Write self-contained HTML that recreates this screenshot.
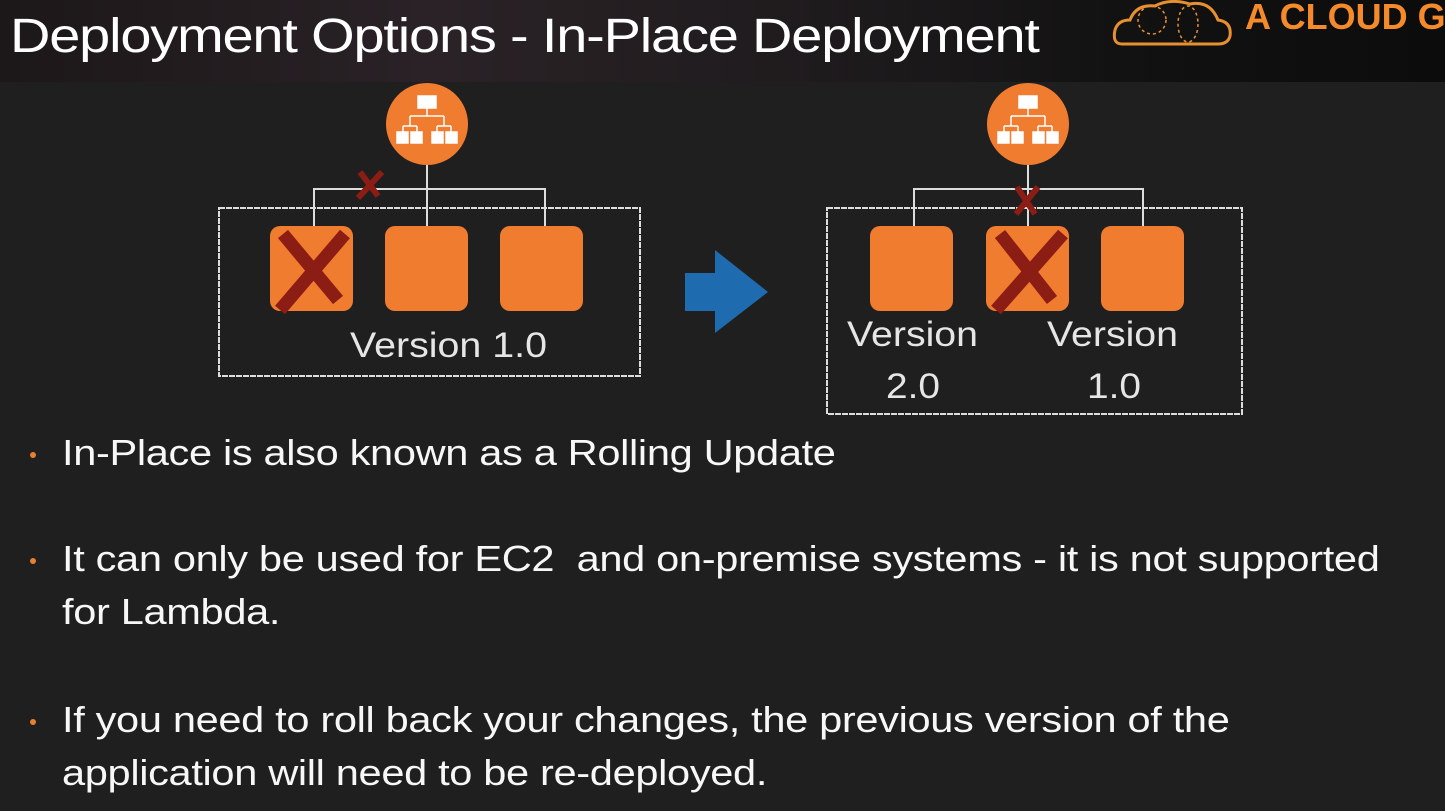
<!DOCTYPE html>
<html><head><meta charset="utf-8"><style>
html,body{margin:0;padding:0;width:1445px;height:811px;overflow:hidden;background:#1f1f1f;font-family:"Liberation Sans",sans-serif;}
.hdr{position:absolute;left:0;top:0;width:1445px;height:82px;background:linear-gradient(90deg,#1c1719 0%,#2a2226 30%,#1d1a1c 60%,#111 80%,#0c0c0c 100%);}
.t{position:absolute;color:#fff;white-space:nowrap;}
.b{position:absolute;color:#f7f7f7;font-size:36px;white-space:nowrap;left:62px;letter-spacing:-0.3px;transform:scaleX(1.155);transform-origin:0 0}
.dot{position:absolute;left:30px;width:6px;height:6px;border-radius:50%;background:#e8802f;}
</style></head><body>
<div class="hdr"></div>
<div class="t" style="left:10px;top:9px;font-size:48px;letter-spacing:-1px;transform:scaleX(1.165);transform-origin:0 0">Deployment Options - In-Place Deployment</div>
<svg style="position:absolute;left:1110px;top:0" width="140" height="50"><path d="M12 44 Q2 44 5 30 Q8 20 20 20 Q26 4 45 6 Q60 -2 80 4 Q100 0 108 20 Q122 22 120 36 Q118 44 108 44 Z" fill="none" stroke="#e8902f" stroke-width="3"/><circle cx="42" cy="20" r="14" fill="none" stroke="#e8902f" stroke-width="1.5" stroke-dasharray="3 3"/><ellipse cx="78" cy="24" rx="10" ry="18" fill="none" stroke="#e8902f" stroke-width="1.5" stroke-dasharray="3 3"/></svg>
<div class="t" style="left:1245px;top:-4px;font-size:36px;font-weight:bold;color:#f58a2a;">A CLOUD G</div>

<svg style="position:absolute;left:0;top:0" width="1445" height="811">
<defs>
<g id="elb"><circle r="41" fill="#f07c2f"/><g fill="#fff" stroke="#fff" stroke-width="1.5">
<rect x="-9" y="-28" width="18" height="12"/><line x1="0" y1="-16" x2="0" y2="-8" fill="none"/><line x1="-17" y1="-8" x2="17" y2="-8"/><line x1="-17" y1="-8" x2="-17" y2="2"/><line x1="17" y1="-8" x2="17" y2="2"/><line x1="-24" y1="2" x2="-10" y2="2"/><line x1="10" y1="2" x2="24" y2="2"/><line x1="-24" y1="2" x2="-24" y2="8"/><line x1="-10" y1="2" x2="-10" y2="8"/><line x1="10" y1="2" x2="10" y2="8"/><line x1="24" y1="2" x2="24" y2="8"/>
<rect x="-30" y="8" width="11" height="11"/><rect x="-16" y="8" width="11" height="11"/><rect x="5" y="8" width="11" height="11"/><rect x="19" y="8" width="11" height="11"/></g></g>
</defs>
<g fill="none" stroke="#ddd" stroke-width="2">
<rect x="219" y="208" width="421" height="168" stroke-dasharray="6 1"/>
<rect x="827" y="208" width="415" height="206" stroke-dasharray="6 1"/>
<path d="M427 165V226M314 226V189H545V226"/>
<path d="M1028 165V226M914 226V189H1143V226"/>
</g>
<use href="#elb" x="427" y="124"/>
<use href="#elb" x="1028" y="124"/>
<g fill="#f07c2f">
<rect x="270" y="226" width="83" height="85" rx="10"/><rect x="385" y="226" width="83" height="85" rx="10"/><rect x="500" y="226" width="83" height="85" rx="10"/>
<rect x="870" y="226" width="83" height="85" rx="10"/><rect x="986" y="226" width="83" height="85" rx="10"/><rect x="1101" y="226" width="83" height="85" rx="10"/>
</g>
<g stroke="#8b1d14" stroke-linecap="butt">
<path d="M283 234L338 300M345 234L280 310" stroke-width="13"/>
<path d="M1000 234L1052 300M1063 234L996 310" stroke-width="13"/>
<path d="M360 172L378 196M382 172L358 198" stroke-width="6"/>
<path d="M1017 187L1035 214M1038 187L1016 214" stroke-width="6"/>
</g>
<path d="M685 273H715V250L768 292L715 333V311H685Z" fill="#1f6bb0"/>
<g fill="#e6e6e6" font-family="Liberation Sans, sans-serif" font-size="35">
<text x="350" y="357" textLength="197" lengthAdjust="spacingAndGlyphs">Version 1.0</text>
<text x="847" y="346" textLength="131" lengthAdjust="spacingAndGlyphs">Version</text><text x="886" y="398" textLength="54" lengthAdjust="spacingAndGlyphs">2.0</text>
<text x="1047" y="346" textLength="131" lengthAdjust="spacingAndGlyphs">Version</text><text x="1087" y="398" textLength="54" lengthAdjust="spacingAndGlyphs">1.0</text>
</g>
</svg>

<div class="dot" style="top:452px"></div>
<div class="b" style="top:432px">In-Place is also known as a Rolling Update</div>
<div class="dot" style="top:558px"></div>
<div class="b" style="top:538px">It can only be used for EC2&nbsp; and on-premise systems - it is not supported</div>
<div class="b" style="top:591px">for Lambda.</div>
<div class="dot" style="top:719px"></div>
<div class="b" style="top:699px">If you need to roll back your changes, the previous version of the</div>
<div class="b" style="top:752px">application will need to be re-deployed.</div>
</body></html>
